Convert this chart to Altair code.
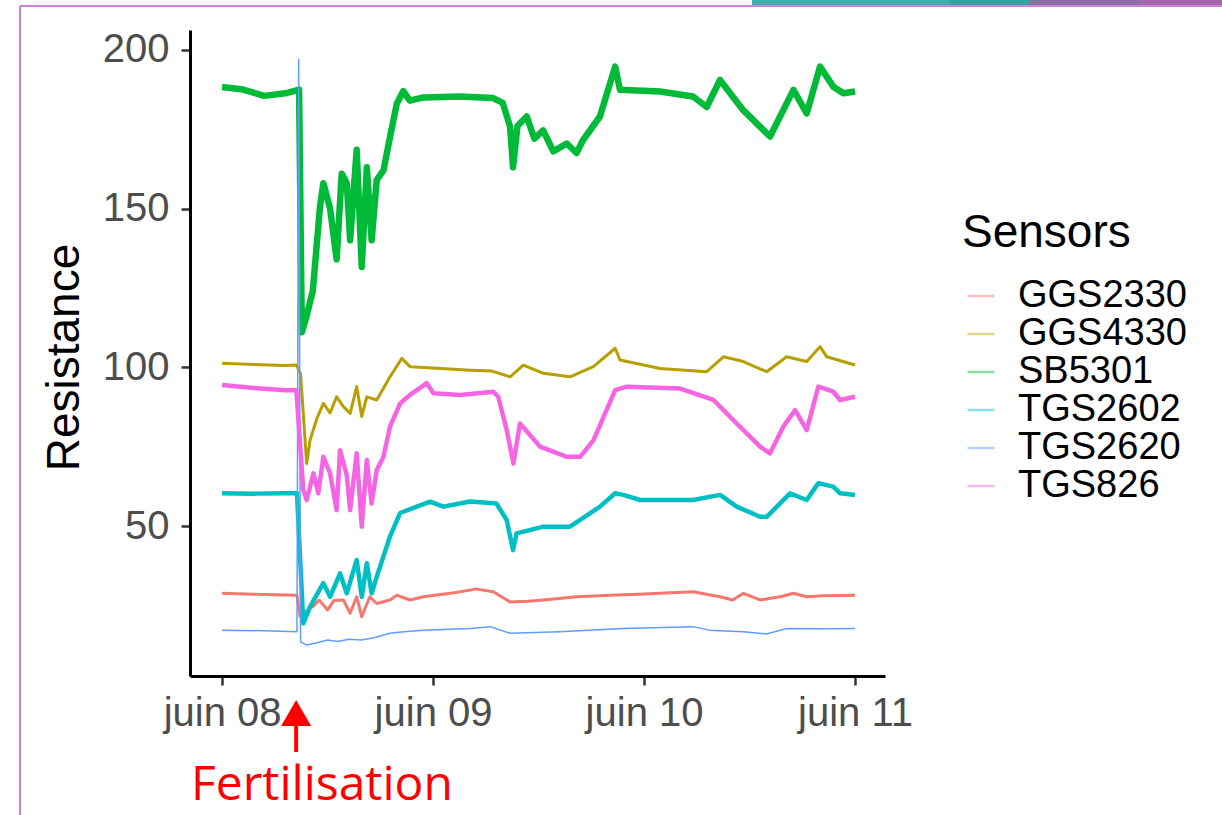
import altair as alt
import pandas as pd

# Sensor resistance traces, (day since 8 June 00:00, resistance)
GGS2330 = [(0.0, 28.8), (0.15, 28.5), (0.30, 28.3), (0.355, 28.2), (0.37, 21.4), (0.395, 23.0),
           (0.43, 24.6), (0.46, 26.7), (0.50, 23.5), (0.53, 26.5), (0.575, 26.7), (0.607, 22.5),
           (0.638, 27.7), (0.662, 21.4), (0.70, 27.7), (0.733, 25.6), (0.796, 26.7), (0.828, 28.2),
           (0.891, 26.7), (0.954, 27.7), (1.10, 29.0), (1.175, 29.8), (1.20, 30.2), (1.286, 29.3),
           (1.33, 27.5), (1.365, 26.1), (1.45, 26.3), (1.523, 26.7), (1.68, 27.7), (1.84, 28.2),
           (2.0, 28.6), (2.232, 29.3), (2.36, 27.7), (2.42, 26.7), (2.471, 28.8), (2.55, 26.7),
           (2.65, 27.8), (2.708, 28.8), (2.771, 27.7), (2.85, 28.0), (3.0, 28.2)]

GGS4330 = [(0.0, 101.3), (0.15, 100.9), (0.30, 100.6), (0.352, 100.7), (0.372, 98.0), (0.401, 69.7),
           (0.417, 77.0), (0.45, 84.0), (0.48, 88.6), (0.512, 85.6), (0.543, 90.7), (0.575, 87.6),
           (0.607, 85.5), (0.638, 93.9), (0.662, 84.5), (0.686, 90.7), (0.733, 89.7), (0.796, 97.0),
           (0.852, 102.8), (0.891, 100.2), (1.0, 99.8), (1.175, 99.1), (1.28, 98.8), (1.365, 97.0),
           (1.428, 100.7), (1.523, 98.1), (1.649, 97.0), (1.76, 100.2), (1.863, 106.0), (1.886, 102.3),
           (2.076, 99.6), (2.297, 98.6), (2.376, 103.3), (2.471, 101.8), (2.581, 98.6), (2.676, 103.3),
           (2.771, 101.8), (2.834, 106.5), (2.866, 103.3), (3.0, 100.7)]

SB5301 = [(0.0, 188.3), (0.1, 187.5), (0.2, 185.5), (0.30, 186.3), (0.365, 187.5), (0.378, 111.0),
          (0.40, 116.0), (0.43, 124.0), (0.464, 150.5), (0.48, 158.0), (0.512, 150.0), (0.543, 134.0),
          (0.567, 161.0), (0.591, 158.0), (0.607, 140.0), (0.638, 168.5), (0.662, 131.6), (0.686, 163.0),
          (0.709, 140.0), (0.733, 159.0), (0.765, 162.0), (0.796, 172.6), (0.828, 183.0), (0.859, 187.0),
          (0.89, 184.0), (0.954, 185.0), (1.128, 185.3), (1.285, 184.8), (1.33, 183.3), (1.365, 175.8),
          (1.379, 163.0), (1.40, 176.0), (1.444, 179.0), (1.48, 172.0), (1.522, 174.6), (1.57, 168.0),
          (1.634, 170.5), (1.68, 167.5), (1.711, 171.6), (1.791, 179.0), (1.863, 194.7), (1.886, 187.4),
          (2.076, 186.9), (2.232, 185.3), (2.297, 182.0), (2.36, 190.5), (2.47, 181.0), (2.597, 172.7),
          (2.708, 187.4), (2.771, 180.0), (2.834, 194.7), (2.897, 188.4), (2.945, 186.3), (3.0, 186.9)]

TGS2602 = [(0.0, 60.3), (0.15, 60.2), (0.30, 60.3), (0.355, 60.3), (0.385, 19.3), (0.417, 24.6),
           (0.48, 32.0), (0.512, 27.7), (0.559, 35.1), (0.591, 28.8), (0.638, 39.3), (0.662, 27.7),
           (0.686, 38.3), (0.709, 28.8), (0.733, 34.0), (0.796, 46.7), (0.844, 54.1), (0.923, 56.1),
           (0.986, 57.7), (1.049, 56.1), (1.175, 57.7), (1.30, 57.1), (1.349, 51.9), (1.379, 42.4),
           (1.396, 47.7), (1.523, 49.8), (1.649, 49.8), (1.697, 51.9), (1.791, 56.1), (1.863, 60.3),
           (1.902, 59.8), (1.981, 58.2), (2.232, 58.2), (2.36, 59.8), (2.439, 56.1), (2.55, 52.9),
           (2.581, 52.9), (2.692, 60.3), (2.771, 58.2), (2.826, 63.5), (2.897, 62.4), (2.929, 60.3),
           (3.0, 59.8)]

TGS2620 = [(0.0, 17.2), (0.2, 17.0), (0.355, 16.7), (0.363, 197.0), (0.372, 13.5), (0.40, 12.5),
           (0.45, 13.2), (0.50, 14.1), (0.55, 13.6), (0.60, 14.3), (0.66, 14.1), (0.72, 14.8),
           (0.796, 16.2), (0.85, 16.6), (0.954, 17.2), (1.175, 17.7), (1.27, 18.3), (1.365, 16.2),
           (1.60, 16.7), (1.90, 17.7), (2.232, 18.3), (2.31, 17.2), (2.47, 16.7), (2.58, 16.0),
           (2.676, 17.7), (2.85, 17.6), (3.0, 17.7)]

TGS826 = [(0.0, 94.4), (0.15, 93.5), (0.30, 92.8), (0.352, 92.8), (0.385, 61.3), (0.401, 58.2),
          (0.433, 66.6), (0.456, 60.3), (0.48, 71.8), (0.512, 66.6), (0.543, 55.0), (0.559, 73.9),
          (0.591, 66.0), (0.607, 55.0), (0.638, 72.9), (0.662, 49.8), (0.686, 70.8), (0.709, 57.1),
          (0.733, 67.6), (0.765, 71.8), (0.796, 81.3), (0.844, 88.6), (0.891, 91.3), (0.97, 95.0),
          (1.002, 91.8), (1.128, 91.3), (1.286, 92.3), (1.309, 90.7), (1.349, 80.2), (1.381, 69.7),
          (1.412, 82.3), (1.507, 75.0), (1.634, 71.8), (1.697, 71.8), (1.76, 77.0), (1.863, 92.8),
          (1.918, 93.9), (2.171, 93.3), (2.329, 89.7), (2.439, 82.3), (2.55, 75.0), (2.597, 72.9),
          (2.66, 81.3), (2.716, 86.5), (2.771, 80.2), (2.826, 93.9), (2.897, 92.3), (2.929, 89.7),
          (3.0, 90.7)]

SENSORS = ["GGS2330", "GGS4330", "SB5301", "TGS2602", "TGS2620", "TGS826"]
SERIES = [GGS2330, GGS4330, SB5301, TGS2602, TGS2620, TGS826]
COLORS = ["#F8766D", "#B79F00", "#00BA38", "#00BFC4", "#619CFF", "#F564E3"]
WIDTHS = [3.0, 3.0, 6.5, 4.5, 1.5, 4.5]

DAY_TICKS = [0, 1, 2, 3]
Y_TICKS = [50, 100, 150, 200]
FERTILISATION_DAY = 0.351

W, H = 695, 646
PAD_L, PAD_T = 190, 30

x_scale = alt.Scale(domain=[-0.152, 3.142], nice=False, zero=False)
y_scale = alt.Scale(domain=[2.75, 206.25], nice=False, zero=False)
color_scale = alt.Scale(domain=SENSORS, range=COLORS)

x_enc = alt.X("day:Q", scale=x_scale,
              axis=alt.Axis(values=DAY_TICKS, title=None,
                            labelExpr="'juin ' + (datum.value + 8 < 10 ? '0' : '') + (datum.value + 8)"))
y_enc = alt.Y("resistance:Q", scale=y_scale, axis=alt.Axis(values=Y_TICKS, title="Resistance"))

# One line layer per sensor so each trace keeps its own stroke width
line_layers = []
for i, (name, pts, w) in enumerate(zip(SENSORS, SERIES, WIDTHS)):
    part = pd.DataFrame({"sensor": name, "day": [p[0] for p in pts], "resistance": [p[1] for p in pts]})
    legend = None
    if i == 0:
        legend = alt.Legend(title="Sensors", orient="none", legendX=772, legendY=181,
                            symbolType="stroke", symbolSize=729, symbolStrokeWidth=2.5,
                            symbolOpacity=0.45, labelLimit=400, values=SENSORS)
    color = alt.Color("sensor:N", scale=color_scale, legend=legend) if legend else \
        alt.Color("sensor:N", scale=color_scale)
    line_layers.append(
        alt.Chart(part).mark_line(strokeWidth=w, strokeJoin="round", clip=True).encode(
            x=x_enc, y=y_enc, color=color, order=alt.Order("day:Q"))
    )

# Fertilisation marker below the time axis
fert = pd.DataFrame({"day": [FERTILISATION_DAY], "label": ["Fertilisation"]})
arrow_head = alt.Chart(fert).mark_point(shape="triangle-up", filled=True, color="#FF0000",
                                        size=900, opacity=1).encode(
    x=alt.X("day:Q", scale=x_scale), y=alt.value(683))
arrow_shaft = alt.Chart(fert).mark_rule(color="#FF0000", strokeWidth=4).encode(
    x=alt.X("day:Q", scale=x_scale), y=alt.value(690), y2=alt.value(722))
fert_label = alt.Chart(fert).mark_text(font="Open Sans", fontSize=48, color="#FF0000",
                                       align="left", baseline="alphabetic").encode(
    x=alt.value(1), y=alt.value(770), text="label:N")

# Page frame and header band
frame_color = "#C77DD0"
frame = pd.DataFrame({"k": ["top", "left"]})
top_line = alt.Chart(frame).mark_rule(color=frame_color, strokeWidth=1.5).encode(
    x=alt.value(20 - PAD_L), x2=alt.value(1222 - PAD_L), y=alt.value(6 - PAD_T))
left_line = alt.Chart(frame).mark_rule(color=frame_color, strokeWidth=1.5).encode(
    x=alt.value(20 - PAD_L), y=alt.value(6 - PAD_T), y2=alt.value(815 - PAD_T))

band_x0 = [752, 950, 1029, 1140]
band_x1 = [950, 1029, 1140, 1222]
band_colors = ["#41AEA9", "#38A39F", "#8870A3", "#A56AAA"]
bands = []
for a, b, c in zip(band_x0, band_x1, band_colors):
    bands.append(alt.Chart(frame).mark_rect(color=c).encode(
        x=alt.value(a - PAD_L), x2=alt.value(b - PAD_L),
        y=alt.value(0 - PAD_T), y2=alt.value(5 - PAD_T)))

chart = alt.layer(*line_layers, arrow_shaft, arrow_head, fert_label, top_line, left_line, *bands).properties(
    width=W, height=H,
    padding={"left": PAD_L, "top": PAD_T, "right": 1222 - PAD_L - W, "bottom": 815 - PAD_T - H},
    autosize=alt.AutoSizeParams(type="none"),
).configure(font="Liberation Sans").configure_view(stroke=None).configure_axis(
    grid=False,
    domainColor="#000000", domainWidth=3,
    tickColor="#333333", tickWidth=2.5, tickSize=9,
    labelColor="#4D4D4D", labelFontSize=40, labelPadding=8,
    titleColor="#000000", titleFontSize=46, titleFontWeight="normal",
).configure_axisY(
    labelPadding=12,
    titleX=-126, titleY=327, titleAlign="center", titleBaseline="middle", titleAngle=-90,
).configure_legend(
    padding=0, titleFontSize=46, titleFontWeight="normal", titleColor="#000000",
    titlePadding=20, labelFontSize=38, labelColor="#000000", labelOffset=18,
    rowPadding=0,
)

chart.save("out.html", embed_options={"renderer": "svg", "actions": False})
